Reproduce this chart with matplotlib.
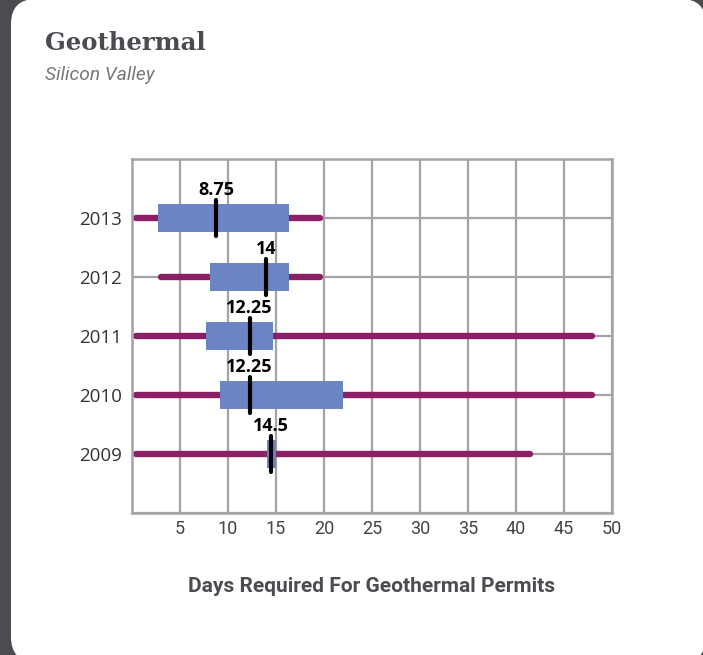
import matplotlib.pyplot as plt
from matplotlib.patches import FancyBboxPatch

# permit turnaround, days, per year (low whisker / box / median / high whisker)
years = ['2009', '2010', '2011', '2012', '2013']
low = [0.4, 0.4, 0.4, 3.0, 0.4]
q1 = [14.1, 9.2, 7.7, 8.1, 2.75]
median = [14.5, 12.25, 12.25, 14, 8.75]
q3 = [15.0, 22.0, 14.7, 16.35, 16.35]
high = [41.5, 47.9, 47.9, 19.6, 19.6]
median_labels = ['14.5', '12.25', '12.25', '14', '8.75']
x_ticks = [5, 10, 15, 20, 25, 30, 35, 40, 45, 50]

W, H = 703, 655
dark = '#4b4c52'
grid_c = '#a3a3a8'
whisker_c = '#8c2066'
box_c = '#6b85c3'
narrow = ['Roboto', 'DejaVu Sans']

fig = plt.figure(figsize=(W / 100, H / 100), dpi=100)
fig.patch.set_facecolor(dark)

# white card with rounded corners
bg = fig.add_axes([0, 0, 1, 1])
bg.set_xlim(0, W)
bg.set_ylim(H, 0)
bg.axis('off')
bg.add_patch(FancyBboxPatch((11 + 25, -1 + 25), 706 - 11 - 50, 662 + 1 - 50,
                            boxstyle='round,pad=25', fc='white', ec='none'))

fig.text(45 / W, 1 - 50 / H, 'Geothermal', family='DejaVu Serif', weight='bold',
         size=17.6, color=dark, va='baseline')
fig.text(45 / W, 1 - 80 / H, 'Silicon Valley', family=narrow, style='italic',
         size=13.8, color='#77777c', va='baseline')

ax = fig.add_axes([132 / W, 1 - 513 / H, 480 / W, 354 / H])
ax.set_xlim(0, 50)
ax.set_ylim(0, 6)
ax.set_axisbelow(True)

rows = list(range(1, len(years) + 1))
ax.hlines(rows, low, high, color=whisker_c, lw=4.6, capstyle='round', zorder=2)
ax.barh(rows, [b - a for a, b in zip(q1, q3)], left=q1, height=0.47,
        color=box_c, zorder=3)
ax.vlines(median, [r - 0.3 for r in rows], [r + 0.3 for r in rows],
          color='black', lw=3, capstyle='round', zorder=4)
for r, m, lab in zip(rows, median, median_labels):
    ax.text(m, r + 0.33, lab, ha='center', va='bottom', family='Open Sans',
            weight='bold', size=13, color='black', zorder=5)

ax.set_xticks(x_ticks)
ax.set_xticklabels([str(t) for t in x_ticks], family=narrow, size=13,
                   color='#444449')
ax.set_yticks(range(0, 7))
ax.set_yticklabels([''] + years + [''], family='Open Sans', size=13.5,
                   color='#333333')
ax.tick_params(length=0)
ax.tick_params(axis='x', pad=5)
ax.tick_params(axis='y', pad=7)
ax.grid(True, color=grid_c, lw=1.6)
for s in ax.spines.values():
    s.set_color(grid_c)
    s.set_linewidth(1.8)

fig.text(372 / W, 1 - 586 / H, 'Days Required For Geothermal Permits',
         family=narrow, weight='bold', size=15, color=dark,
         ha='center', va='center')

fig.savefig('out.png', dpi=100, facecolor=dark)
